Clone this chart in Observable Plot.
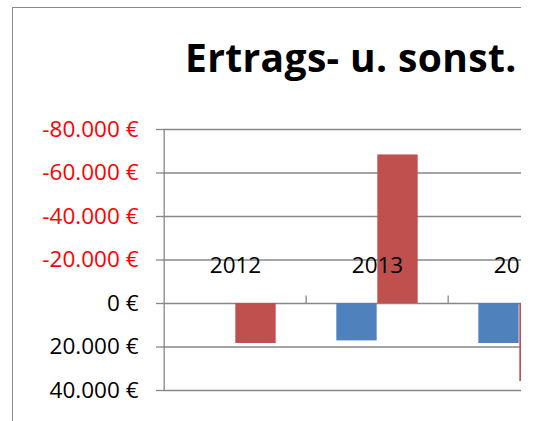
<!DOCTYPE html>
<html><head><meta charset="utf-8">
<script src="https://cdn.jsdelivr.net/npm/d3@7"></script>
<script src="https://cdn.jsdelivr.net/npm/@observablehq/plot@0.6"></script>
<style>
body{margin:0;background:#fff;}
#frame{position:absolute;left:0;top:0;width:521px;height:421px;overflow:hidden;background:#fff;}
#border{position:absolute;left:12px;top:7px;width:700px;height:600px;border-left:1.5px solid #8a8a8a;border-top:1.5px solid #8a8a8a;}
#title{position:absolute;left:185px;top:37px;font-family:"Open Sans";font-weight:bold;font-size:39px;letter-spacing:0.35px;line-height:1;white-space:nowrap;color:#000;}
#chart{position:absolute;left:0;top:0;width:591px;}
#chart svg{max-width:none !important;}
</style>
</head><body>
<div id="frame">
  <div id="border"></div>
  <div id="title">Ertrags- u. sonst.</div>
  <div id="chart"></div>
</div>
<script>
const years = [2012, 2013, 2014];
const seriesA = [0, 17200, 18400];
const seriesB = [18400, -68300, 35900];
const yTicks = [-80000, -60000, -40000, -20000, 0, 20000, 40000];
const colorA = "#4F81BD", colorB = "#C0504D";

const rows = years.map((year, i) => ({year, a: seriesA[i], b: seriesB[i]}));
const W = 591, H = 421, ML = 163, MT = 129, MB = 31;
const step = (W - ML) / years.length;
const barW = 41;
const sidePad = (step - 2 * barW) / 2;
const gridColor = "#878787";

const de = d3.formatLocale({decimal: ",", thousands: ".", grouping: [3], currency: ["", ""], minus: "-"});
const fmt = d => de.format(",.0f")(d) + " €";

const chart = Plot.plot({
  width: W, height: H,
  marginLeft: ML, marginRight: 0, marginTop: MT, marginBottom: MB,
  style: {fontFamily: "Open Sans", fontSize: "22.5px", background: "transparent", overflow: "visible", color: "#000", maxWidth: "none"},
  x: {type: "band", domain: years, padding: 0, axis: null},
  y: {domain: [yTicks[0], yTicks[yTicks.length - 1]], reverse: true, axis: null},
  marks: [
    Plot.gridY(yTicks, {stroke: gridColor, strokeOpacity: 1, strokeWidth: 1.3}),
    Plot.barY(rows, {x: "year", y: "a", fill: colorA, insetLeft: sidePad, insetRight: sidePad + barW}),
    Plot.barY(rows, {x: "year", y: "b", fill: colorB, insetLeft: sidePad + barW, insetRight: sidePad}),
    Plot.ruleX([years[0]], {x: d => d, dx: -step / 2, stroke: gridColor, strokeWidth: 1.3}),
    Plot.ruleX(years.slice(1), {x: d => d, dx: -step / 2, y1: 0, y2: 0, insetTop: -7.5, stroke: gridColor, strokeWidth: 1.3}),
    Plot.axisY(yTicks.filter(d => d < 0), {tickSize: 7, tickPadding: 18, tickFormat: fmt, fill: "#ff0000", stroke: gridColor, strokeWidth: 1.3, fontSize: 22.5}),
    Plot.axisY(yTicks.filter(d => d >= 0), {tickSize: 7, tickPadding: 18, tickFormat: fmt, fill: "#000", stroke: gridColor, strokeWidth: 1.3, fontSize: 22.5}),
    Plot.text(years, {x: d => d, y: 0, dy: -38, text: d => String(d), fontSize: 22.5, fill: "#000"})
  ]
});
document.getElementById("chart").appendChild(chart);
</script>
</body></html>
